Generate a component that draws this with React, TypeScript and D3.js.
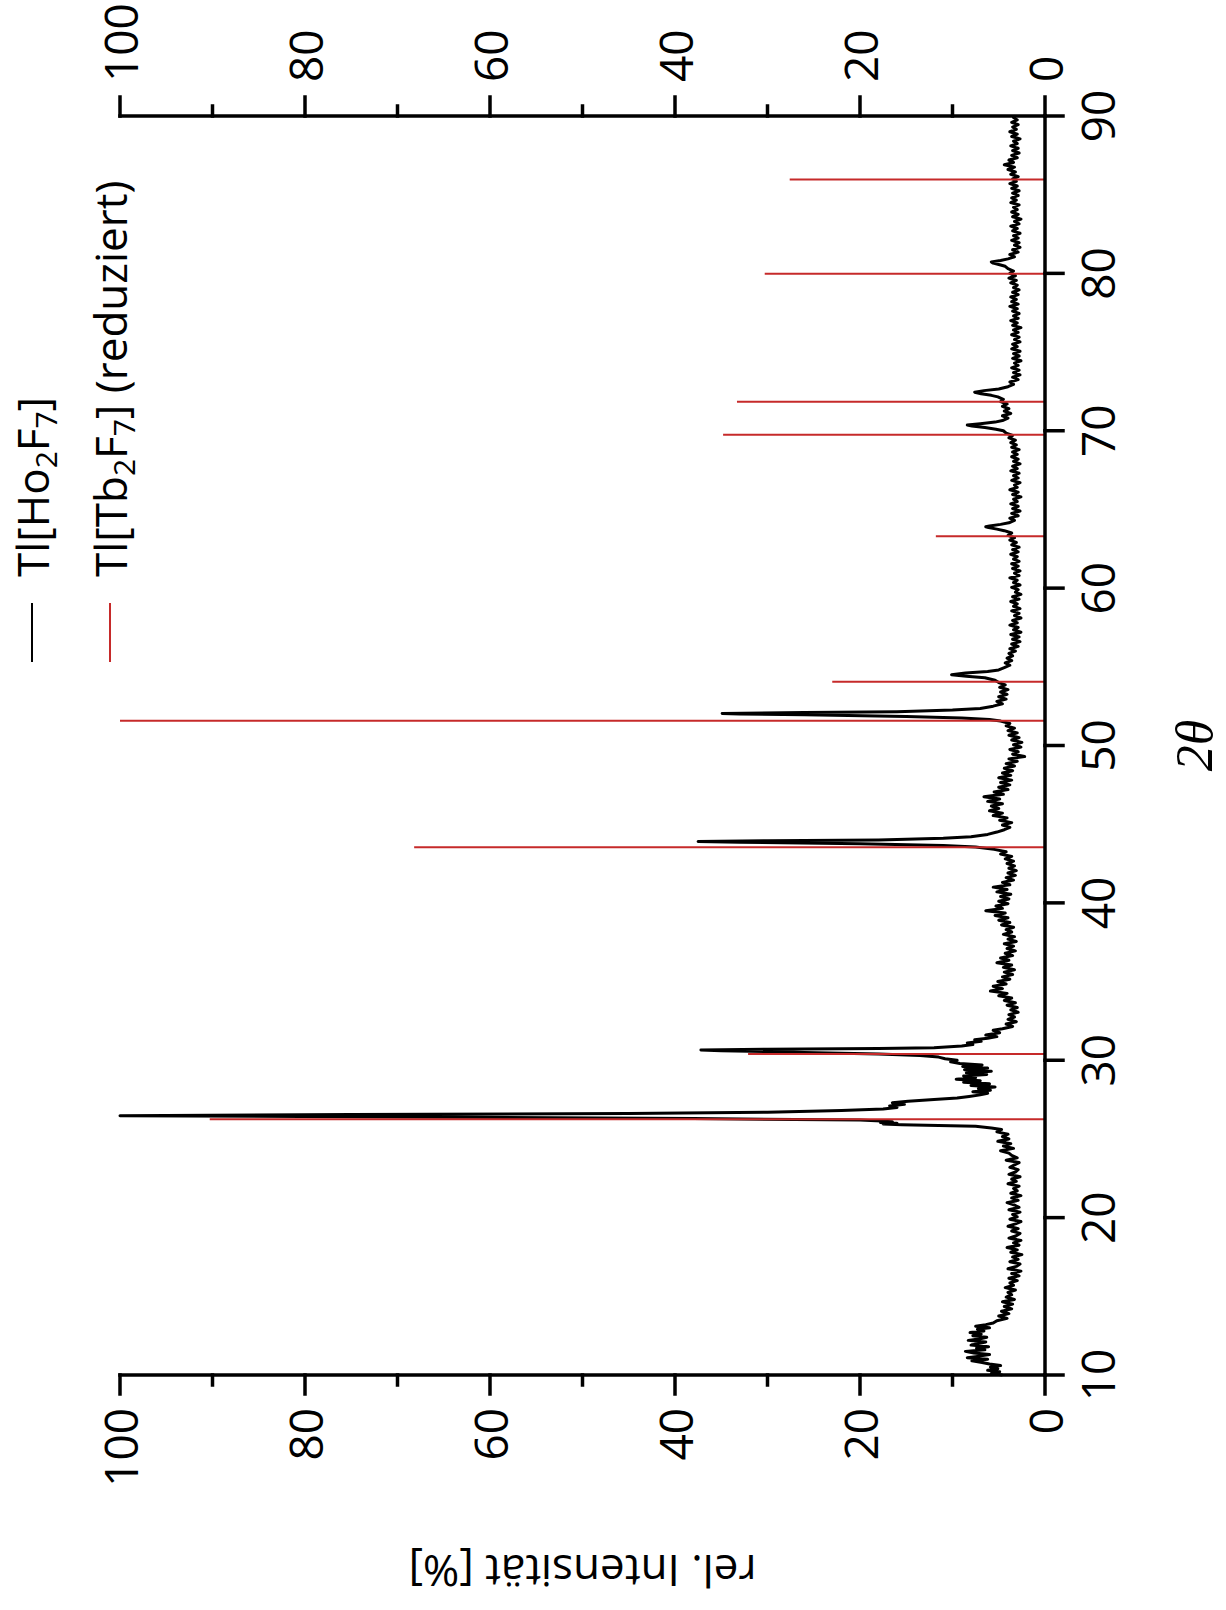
import React from "react";
import * as d3 from "d3";

// measured scan of Tl[Ho2F7]: [2theta, rel. intensity %]
const scanLow: [number, number][] = [
  [10.0, 4.6], [10.1, 5.8], [10.2, 4.9], [10.3, 6.2], [10.4, 5.1], [10.5, 5.9], [10.6, 4.8], [10.7, 6.0],
  [10.8, 6.8], [10.9, 7.9], [11.0, 6.2], [11.1, 8.4], [11.2, 7.1], [11.3, 6.0], [11.4, 7.7], [11.5, 8.6],
  [11.6, 6.5], [11.7, 7.4], [11.8, 6.1], [11.9, 8.0], [12.0, 7.2], [12.1, 6.4], [12.2, 8.3], [12.3, 7.0],
  [12.4, 6.3], [12.5, 7.8], [12.6, 6.9], [12.7, 8.1], [12.8, 6.6], [12.9, 7.3], [13.0, 6.0], [13.1, 7.5],
  [13.2, 6.4], [13.3, 5.6], [13.45, 5.2], [13.6, 4.1], [13.75, 5.0], [13.9, 3.9], [14.05, 4.7], [14.2, 3.6],
  [14.35, 4.4], [14.5, 3.5], [14.65, 4.6], [14.8, 3.3], [14.95, 4.2], [15.1, 3.6], [15.25, 4.0], [15.4, 3.2],
  [15.55, 4.3], [15.7, 3.4], [15.85, 3.8], [16.0, 3.0], [16.15, 3.9], [16.3, 2.8], [16.45, 3.6], [16.6, 2.6],
  [16.75, 4.0], [16.9, 3.1], [17.05, 2.7], [17.2, 3.8], [17.35, 2.9], [17.5, 3.5], [17.65, 2.5], [17.8, 3.7],
  [17.95, 3.0], [18.1, 4.1], [18.25, 2.8], [18.4, 3.4], [18.55, 2.6], [18.7, 3.9], [18.85, 3.1], [19.0, 2.7],
  [19.15, 3.6], [19.3, 2.9], [19.45, 4.0], [19.6, 3.2], [19.75, 2.6], [19.9, 3.8], [20.05, 3.0], [20.2, 3.5],
  [20.35, 2.7], [20.5, 3.9], [20.65, 2.8], [20.8, 3.3], [20.95, 4.1], [21.1, 2.9], [21.25, 3.6], [21.4, 2.6],
  [21.55, 3.7], [21.7, 3.0], [21.85, 3.4], [22.0, 2.8], [22.15, 4.0], [22.3, 3.1], [22.45, 3.6], [22.6, 2.7],
  [22.75, 3.9], [22.9, 3.2], [23.05, 2.9], [23.2, 3.8], [23.35, 3.3], [23.5, 2.8], [23.65, 4.2], [23.8, 3.0],
  [23.95, 3.6], [24.1, 3.9], [24.25, 4.8], [24.4, 3.4], [24.55, 4.5], [24.7, 3.7], [24.85, 5.1], [25.0, 3.9],
  [25.15, 4.6], [25.3, 4.0], [25.45, 5.2], [25.6, 4.7],
];

const scanMain: [number, number][] = [
  [25.7, 5.8], [25.8, 7.5], [25.9, 15.5], [25.95, 17.5], [26.0, 16.0], [26.05, 17.8], [26.1, 16.5],
  [26.2, 20], [26.3, 38], [26.4, 70], [26.47, 100], [26.55, 75], [26.62, 45], [26.7, 30], [26.8, 22],
  [26.9, 17.5], [27.0, 16], [27.1, 16.8], [27.2, 15.2], [27.3, 16.5], [27.4, 14.8], [27.5, 12], [27.6, 9.5],
  [27.7, 8.2], [27.8, 7.0], [27.9, 6.2], [28.0, 7.8], [28.1, 5.9], [28.2, 7.2], [28.3, 5.4], [28.4, 8.0],
  [28.5, 6.0], [28.6, 8.8], [28.7, 7.0], [28.8, 9.6], [28.9, 7.5], [29.0, 8.8], [29.1, 6.3], [29.2, 8.5],
  [29.3, 5.8], [29.4, 8.7], [29.5, 6.2], [29.6, 8.9], [29.7, 6.8], [29.8, 9.2], [29.9, 10.2], [30.0, 9.5],
  [30.1, 10.8], [30.2, 11.5], [30.3, 13.5], [30.4, 18], [30.5, 26], [30.6, 35], [30.65, 37.2], [30.7, 30],
  [30.75, 18], [30.8, 12], [30.9, 9], [31.0, 7.8], [31.1, 8.4], [31.2, 6.9], [31.3, 7.6], [31.4, 6.2],
  [31.5, 5.2], [31.6, 6.4], [31.75, 4.9], [31.9, 5.6],
];

const scanMid: [number, number][] = [
  [32.0, 4.6], [32.15, 3.5], [32.3, 4.2], [32.45, 3.1], [32.6, 4.0], [32.75, 3.3], [32.9, 3.9], [33.05, 2.9],
  [33.2, 3.7], [33.35, 3.0], [33.5, 4.1], [33.65, 3.2], [33.8, 4.4], [33.95, 3.6], [34.1, 5.0], [34.25, 4.1],
  [34.4, 5.9], [34.55, 4.6], [34.7, 5.6], [34.85, 4.2], [35.0, 5.1], [35.15, 3.8], [35.3, 4.6], [35.45, 3.5],
  [35.6, 4.4], [35.75, 3.3], [35.9, 4.5], [36.05, 3.6], [36.2, 5.2], [36.35, 3.9], [36.5, 4.8], [36.65, 3.5],
  [36.8, 4.3], [36.95, 3.2], [37.1, 4.1], [37.25, 3.4], [37.4, 4.4], [37.55, 3.1], [37.7, 4.0], [37.85, 3.3],
  [38.0, 4.5], [38.15, 3.6], [38.3, 4.2], [38.45, 3.4], [38.6, 4.7], [38.75, 3.8], [38.9, 5.0], [39.05, 4.0],
  [39.2, 5.4], [39.35, 4.3], [39.5, 6.4], [39.65, 4.6], [39.8, 5.3], [39.95, 4.0], [40.1, 5.0], [40.25, 3.9],
  [40.4, 4.8], [40.55, 3.7], [40.7, 5.2], [40.85, 4.1], [41.0, 5.6], [41.15, 3.8], [41.3, 4.6], [41.45, 3.4],
  [41.6, 4.2], [41.75, 3.2], [41.9, 4.0], [42.05, 3.1], [42.2, 3.9], [42.35, 3.3], [42.5, 4.1], [42.65, 3.4],
  [42.8, 4.3], [42.95, 3.6], [43.1, 4.8], [43.25, 4.2], [43.4, 5.5], [43.55, 7.5], [43.65, 11], [43.75, 20],
  [43.85, 33], [43.9, 37.5], [43.95, 30], [44.0, 18], [44.1, 11], [44.2, 8], [44.35, 6.2], [44.5, 5.2],
  [44.65, 4.4], [44.8, 3.8], [44.95, 4.6], [45.1, 3.6], [45.25, 4.9], [45.4, 4.1], [45.55, 5.6], [45.7, 4.6],
  [45.85, 6.0], [46.0, 5.0], [46.15, 5.8], [46.3, 4.6], [46.45, 6.2], [46.6, 4.9], [46.75, 6.6], [46.9, 4.5],
  [47.05, 5.5], [47.2, 4.0], [47.35, 5.0], [47.5, 3.8], [47.65, 4.8], [47.8, 3.6], [47.95, 5.0], [48.1, 3.7],
  [48.25, 4.6], [48.4, 3.5], [48.55, 4.4], [48.7, 3.3], [48.85, 4.2], [49.0, 3.0], [49.15, 3.9], [49.3, 2.2],
  [49.45, 3.5], [49.6, 2.9], [49.75, 3.8], [49.9, 2.6], [50.05, 3.4], [50.2, 2.5], [50.35, 3.6], [50.5, 2.8],
  [50.65, 3.9], [50.8, 3.0], [50.95, 4.0], [51.1, 3.3], [51.25, 4.2], [51.4, 3.8], [51.55, 4.8], [51.65, 6.0],
  [51.75, 9.0], [51.85, 15], [51.95, 26], [52.0, 33], [52.04, 34.9], [52.1, 26], [52.15, 16], [52.25, 10],
  [52.35, 7], [52.5, 5.6], [52.65, 4.6], [52.8, 5.2], [52.95, 4.2], [53.1, 5.0], [53.25, 4.1], [53.4, 4.8],
  [53.55, 4.0], [53.7, 4.9], [53.85, 4.3], [54.0, 5.0], [54.15, 5.4], [54.3, 6.5], [54.4, 8.5], [54.5, 10.1],
  [54.6, 8.6], [54.7, 6.2], [54.8, 5.0], [54.95, 4.4], [55.1, 3.8], [55.25, 4.3], [55.4, 3.6], [55.55, 4.1],
  [55.7, 3.5], [55.85, 3.9], [56.0, 3.2],
];

const scanHigh: [number, number][] = [
  [56.15, 3.8], [56.3, 2.9], [56.45, 3.6], [56.6, 2.7], [56.75, 3.5], [56.9, 2.8], [57.05, 3.7], [57.2, 2.6],
  [57.35, 3.4], [57.5, 2.9], [57.65, 3.8], [57.8, 3.0], [57.95, 3.5], [58.1, 2.6], [58.25, 3.3], [58.4, 2.8],
  [58.55, 3.6], [58.7, 2.7], [58.85, 3.4], [59.0, 3.0], [59.15, 3.7], [59.3, 2.8], [59.45, 3.5], [59.6, 2.6],
  [59.75, 3.2], [59.9, 2.9], [60.05, 3.6], [60.2, 2.7], [60.35, 3.4], [60.5, 3.0], [60.65, 3.8], [60.8, 2.8],
  [60.95, 3.3], [61.1, 2.7], [61.25, 3.5], [61.4, 2.9], [61.55, 3.6], [61.7, 2.8], [61.85, 3.4], [62.0, 3.0],
  [62.15, 3.7], [62.3, 2.9], [62.45, 3.5], [62.6, 2.8], [62.75, 3.6], [62.9, 3.1], [63.05, 3.8], [63.2, 3.3],
  [63.35, 4.0], [63.5, 3.6], [63.65, 4.4], [63.75, 5.2], [63.85, 6.1], [63.9, 6.4], [63.95, 6.0], [64.05, 4.8],
  [64.15, 3.9], [64.3, 3.3], [64.45, 3.8], [64.6, 2.9], [64.75, 3.6], [64.9, 2.7], [65.05, 3.5], [65.2, 2.9],
  [65.35, 3.7], [65.5, 3.0], [65.65, 3.4], [65.8, 2.6], [65.95, 3.5], [66.1, 2.9], [66.25, 3.8], [66.4, 3.0],
  [66.55, 3.3], [66.7, 2.7], [66.85, 3.6], [67.0, 2.9], [67.15, 3.4], [67.3, 2.8], [67.45, 3.7], [67.6, 3.0],
  [67.75, 3.5], [67.9, 2.7], [68.05, 3.4], [68.2, 2.9], [68.35, 3.6], [68.5, 3.0], [68.65, 3.5], [68.8, 2.8],
  [68.95, 3.6], [69.1, 3.1], [69.25, 3.7], [69.4, 3.2], [69.55, 3.9], [69.7, 3.5], [69.85, 4.2], [70.0, 4.5],
  [70.1, 5.3], [70.2, 6.5], [70.3, 7.9], [70.36, 8.4], [70.45, 7.0], [70.55, 5.4], [70.65, 4.6], [70.8, 4.0],
  [70.95, 4.6], [71.1, 3.7], [71.25, 4.4], [71.4, 3.9], [71.55, 4.6], [71.7, 4.1], [71.85, 4.8], [72.0, 4.5],
  [72.15, 5.1], [72.25, 5.8], [72.35, 6.9], [72.45, 7.6], [72.55, 6.6], [72.65, 5.0], [72.8, 4.0], [72.95, 3.4],
  [73.1, 3.8], [73.25, 2.9], [73.4, 3.5], [73.55, 2.7], [73.7, 3.4], [73.85, 2.8], [74.0, 3.6], [74.15, 2.9],
  [74.3, 3.3], [74.45, 2.6], [74.6, 3.5], [74.75, 2.8], [74.9, 3.4], [75.05, 2.7], [75.2, 3.6], [75.35, 3.0],
  [75.5, 3.5], [75.65, 2.7], [75.8, 3.3], [75.95, 2.8], [76.1, 3.6], [76.25, 2.9], [76.4, 3.4], [76.55, 2.6],
  [76.7, 3.5], [76.85, 3.0], [77.0, 3.7], [77.15, 2.9], [77.3, 3.4], [77.45, 2.8], [77.6, 3.5], [77.75, 3.0],
  [77.9, 3.8], [78.05, 2.9], [78.2, 3.6], [78.35, 3.1], [78.5, 3.7], [78.65, 2.9], [78.8, 3.5], [78.95, 2.8],
  [79.1, 3.4], [79.25, 3.0], [79.4, 3.7], [79.55, 3.1], [79.7, 3.9], [79.85, 3.2], [80.0, 3.8], [80.15, 3.4],
  [80.3, 4.0], [80.45, 4.3], [80.55, 4.9], [80.65, 5.6], [80.73, 5.8], [80.82, 4.8], [80.92, 4.0], [81.05, 3.3],
  [81.2, 3.8], [81.35, 2.9], [81.5, 3.5], [81.65, 2.7], [81.8, 3.3], [81.95, 2.8], [82.1, 3.6], [82.25, 2.9],
  [82.4, 3.4], [82.55, 2.7], [82.7, 3.5], [82.85, 3.0], [83.0, 3.7], [83.15, 2.8], [83.3, 3.3], [83.45, 2.6],
  [83.6, 3.5], [83.75, 2.9], [83.9, 3.6], [84.05, 3.0], [84.2, 3.4], [84.35, 2.8], [84.5, 3.7], [84.65, 3.1],
  [84.8, 3.6], [84.95, 2.9], [85.1, 3.5], [85.25, 2.8], [85.4, 3.6], [85.55, 3.0], [85.7, 3.8], [85.85, 3.1],
  [86.0, 3.5], [86.15, 2.9], [86.3, 3.7], [86.45, 3.2], [86.6, 4.0], [86.75, 3.3], [86.9, 4.4], [87.05, 3.4],
  [87.2, 3.9], [87.35, 3.0], [87.5, 3.6], [87.65, 2.8], [87.8, 3.5], [87.95, 2.9], [88.1, 3.7], [88.25, 3.0],
  [88.4, 3.4], [88.55, 2.7], [88.7, 3.6], [88.85, 3.0], [89.0, 3.8], [89.15, 3.1], [89.3, 3.5], [89.45, 2.9],
  [89.6, 3.6], [89.75, 3.0], [89.9, 3.4], [90.0, 3.2],
];

// reference reflections Tl[Tb2F7] (reduziert)
const refTheta = [26.25, 30.4, 43.54, 51.57, 54.05, 63.3, 69.74, 71.84, 79.98, 85.96];
const refIntensity = [90.3, 32.1, 68.2, 100, 23.0, 11.8, 34.8, 33.3, 30.3, 27.6];

const thetaTicks = [10, 20, 30, 40, 50, 60, 70, 80, 90];
const intTicks = [0, 20, 40, 60, 80, 100];
const intMinor = [10, 30, 50, 70, 90];

const W = 1226;
const H = 1610;
const font = "'Open Sans', 'Noto Sans', sans-serif";
const red = "#c62a2a";

export default function App() {
  // drawn in the unrotated frame (2theta horizontal), then turned by -90deg
  const x = d3.scaleLinear().domain([10, 90]).range([235, 1494]);
  const y = d3.scaleLinear().domain([0, 100]).range([1045, 120]);
  const scan = [...scanLow, ...scanMain, ...scanMid, ...scanHigh];
  const line = d3
    .line<[number, number]>()
    .x((d) => x(d[0]))
    .y((d) => y(d[1]));

  const x0 = x(10);
  const x1 = x(90);
  const yb = y(0);
  const yt = y(100);

  return (
    <svg
      width={W}
      height={H}
      style={{ position: "absolute", left: 0, top: 0, background: "#fff" }}
    >
      <g transform={`translate(0,${H}) rotate(-90)`} fontFamily={font}>
        <path d={line(scan) || ""} fill="none" stroke="#000" strokeWidth={3} strokeLinejoin="round" />
        {refTheta.map((t, i) => (
          <line key={t} x1={x(t)} x2={x(t)} y1={yb} y2={y(refIntensity[i])} stroke={red} strokeWidth={2} />
        ))}

        {/* axes */}
        <g stroke="#000" strokeWidth={3.5} strokeLinecap="square">
          <line x1={x0} x2={x1} y1={yb} y2={yb} />
          <line x1={x0} x2={x0} y1={yb} y2={yt} />
          <line x1={x1} x2={x1} y1={yb} y2={yt} />
          {thetaTicks.map((t) => (
            <line key={"tt" + t} x1={x(t)} x2={x(t)} y1={yb} y2={yb + 18} />
          ))}
          {intTicks.map((v) => (
            <g key={"it" + v}>
              <line x1={x0} x2={x0 - 19} y1={y(v)} y2={y(v)} />
              <line x1={x1} x2={x1 + 19} y1={y(v)} y2={y(v)} />
            </g>
          ))}
          {intMinor.map((v) => (
            <g key={"im" + v}>
              <line x1={x0} x2={x0 - 10} y1={y(v)} y2={y(v)} />
              <line x1={x1} x2={x1 + 10} y1={y(v)} y2={y(v)} />
            </g>
          ))}
        </g>

        <g fontSize={46} fill="#000">
          {thetaTicks.map((t) => (
            <text key={"tl" + t} x={x(t)} y={yb + 70} textAnchor="middle">
              {t}
            </text>
          ))}
          {intTicks.map((v) => (
            <g key={"il" + v}>
              <text x={x0 - 33} y={y(v)} textAnchor="end" dominantBaseline="central">
                {v}
              </text>
              <text x={x1 + 34} y={y(v)} textAnchor="start" dominantBaseline="central">
                {v}
              </text>
            </g>
          ))}
        </g>

        <text
          x={(x0 + x1) / 2}
          y={1212}
          textAnchor="middle"
          fontFamily="'Liberation Serif', 'DejaVu Serif', serif"
          fontStyle="italic"
          fontSize={52}
        >
          2θ
        </text>
        <text
          transform={`translate(38,${(yb + yt) / 2}) rotate(-90)`}
          textAnchor="middle"
          dominantBaseline="central"
          fontSize={44}
        >
          rel. Intensität [%]
        </text>

        {/* legend */}
        <line x1={948} x2={1007} y1={32} y2={32} stroke="#000" strokeWidth={2} />
        <text x={1033} y={32} dominantBaseline="central" fontSize={44}>
          Tl[Ho<tspan fontSize={30} dy={13}>2</tspan>
          <tspan dy={-13}>F</tspan>
          <tspan fontSize={30} dy={13}>7</tspan>
          <tspan dy={-13}>]</tspan>
        </text>
        <line x1={948} x2={1007} y1={110} y2={110} stroke={red} strokeWidth={2} />
        <text x={1033} y={110} dominantBaseline="central" fontSize={44}>
          Tl[Tb<tspan fontSize={30} dy={13}>2</tspan>
          <tspan dy={-13}>F</tspan>
          <tspan fontSize={30} dy={13}>7</tspan>
          <tspan dy={-13}>] (reduziert)</tspan>
        </text>
      </g>
    </svg>
  );
}
